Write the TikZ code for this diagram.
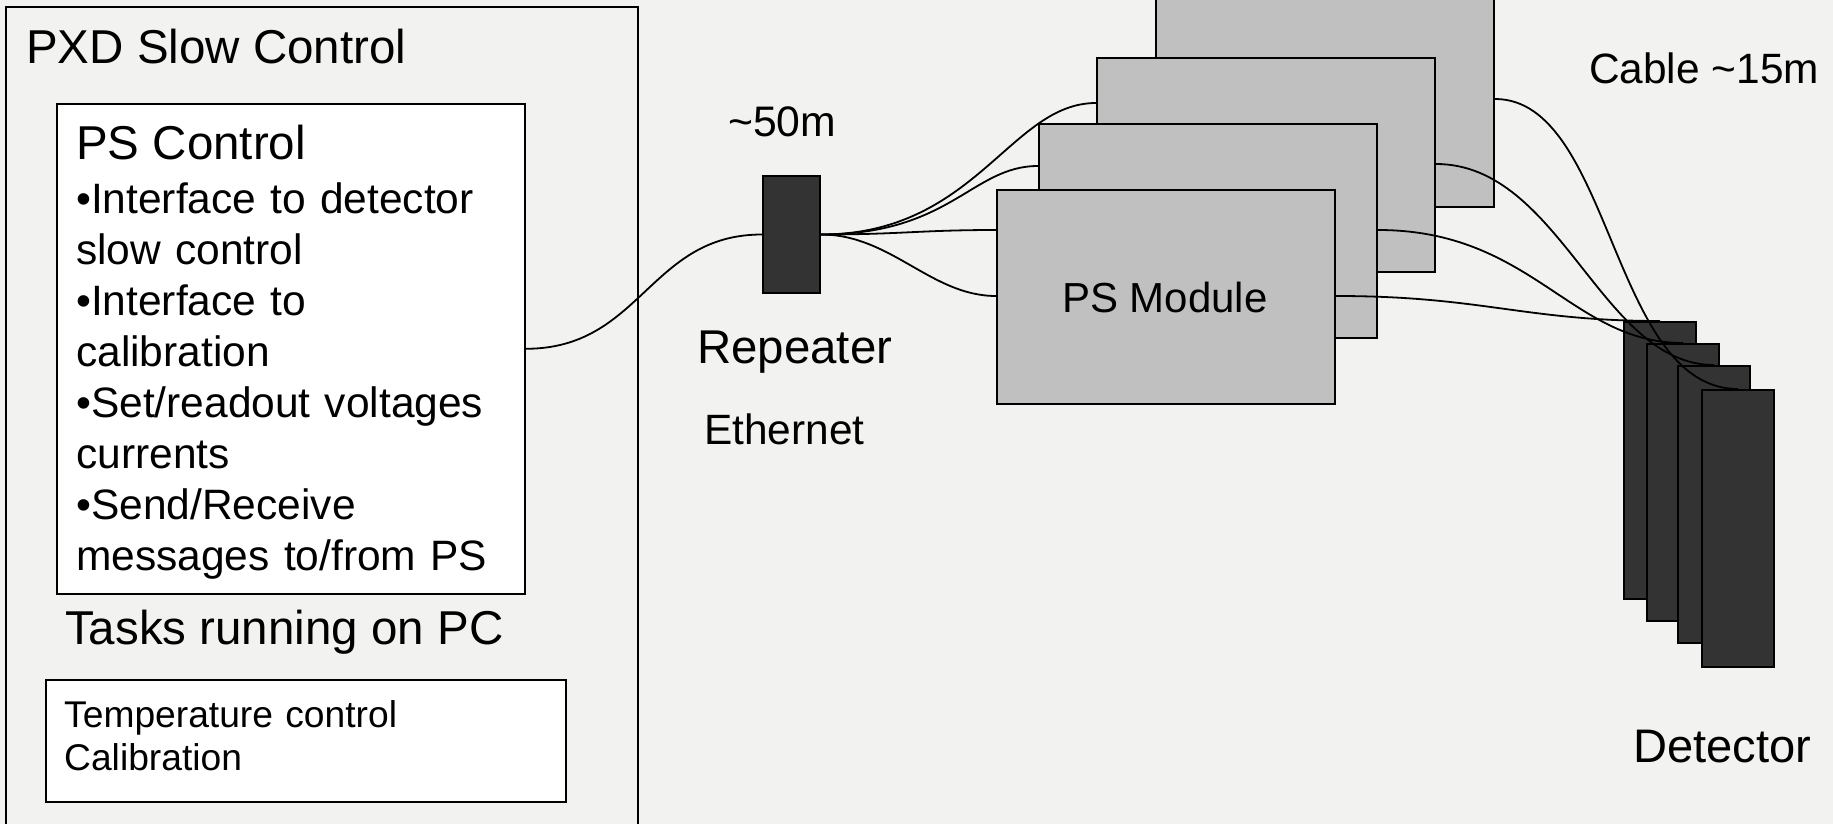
\documentclass[tikz,border=0pt]{standalone}
\usepackage{fontspec}
\setmainfont{Liberation Sans}
\definecolor{bgcol}{HTML}{F2F2F0}
\definecolor{modgray}{HTML}{C0C0C0}
\definecolor{darkbox}{HTML}{333333}
\newcommand{\fsz}[2]{\fontsize{#1}{#2}\selectfont}
\tikzset{
  boxw/.style={draw=black, fill=white, line width=1.6pt, inner sep=0pt, anchor=north west},
  framebox/.style={draw=black, fill=bgcol, line width=1.6pt, inner sep=0pt, anchor=north west},
  modbox/.style={draw=black, fill=modgray, line width=2pt, inner sep=0pt, anchor=north west, minimum width=338pt, minimum height=214pt},
  darkbx/.style={draw=black, fill=darkbox, line width=2pt, inner sep=0pt, anchor=north west},
  detbox/.style={darkbx, minimum width=72pt, minimum height=277pt},
  wire/.style={draw=black, line width=1.8pt},
  lbl/.style={inner sep=0pt, anchor=base west},
}
\begin{document}
\begin{tikzpicture}[x=1pt, y=-1pt]
\useasboundingbox[fill=bgcol] (0,0) rectangle (1833,824);
% left frame
\node[framebox, minimum width=632pt, minimum height=840pt] (frame) at (5,6) {};
\node[lbl, font=\fsz{47.5}{57}] (title) at (26,64) {PXD Slow Control};
\node[boxw, minimum width=468pt, minimum height=490pt] (ps) at (56,103) {};
\node[lbl, font=\fsz{47.5}{57}] (pstitle) at (76,160) {PS Control};
\node[lbl, font=\fsz{42.5}{51}, text width=440pt, align=left] (psbody) at (76,213) {%
\textbullet Interface to detector\\
slow control\\
\textbullet Interface to\\
calibration\\
\textbullet Set/readout voltages\\
currents\\
\textbullet Send/Receive\\
messages to/from PS};
\node[lbl, font=\fsz{47.5}{57}] (tasks) at (65,644) {Tasks running on PC};
\node[boxw, minimum width=520pt, minimum height=122pt] (low) at (45,679) {};
\node[lbl, font=\fsz{37.2}{43}, text width=480pt, align=left] (lowtxt) at (64,727) {Temperature control\\Calibration};
% repeater
\node[darkbx, minimum width=57pt, minimum height=117pt] (rep) at (762,175) {};
\node[lbl, font=\fsz{42.7}{50}] (len50) at (728,136) {\textasciitilde 50m};
\node[lbl, font=\fsz{47.4}{56}] (reptxt) at (697,363) {Repeater};
\node[lbl, font=\fsz{42.4}{50}] (eth) at (704,444) {Ethernet};
% PS modules, back to front
\node[modbox] (m4) at (1155,-8) {};
\node[modbox] (m3) at (1096,57) {};
\node[modbox] (m2) at (1038,123) {};
\node[modbox] (m1) at (996,189) {};
\node[lbl, font=\fsz{42}{50}] (modtxt) at (1062,312) {PS Module};
% detectors, back to front
\node[detbox] (d1) at (1623,321) {};
\node[detbox] (d2) at (1646,343) {};
\node[detbox] (d3) at (1677,365) {};
\node[detbox] (d4) at (1701,389) {};
\node[lbl, font=\fsz{42.4}{50}] (cable) at (1589,84) {Cable \textasciitilde 15m};
\node[lbl, font=\fsz{47.1}{56}] (dettxt) at (1633,762) {Detector};
% wires
\draw[wire] (ps.east) .. controls +(116,0) and +(-113,0) .. (rep.west);
\draw[wire] (rep.east) .. controls +(155,0) and +(-86,0) .. ([yshift=-46pt]m3.north west);
\draw[wire] (rep.east) .. controls +(130,0) and +(-66,0) .. ([yshift=-43pt]m2.north west);
\draw[wire] (rep.east) .. controls +(80,0) and +(-76,0) .. ([yshift=-41pt]m1.north west);
\draw[wire] (rep.east) .. controls +(70,0) and +(-65,0) .. ([yshift=-107pt]m1.north west);
\draw[wire] ([yshift=-107pt]m4.north east) .. controls +(117,0) and +(-127,0) .. (d4.north);
\draw[wire] ([yshift=-107pt]m3.north east) .. controls +(125,0) and +(-113,0) .. (d3.north);
\draw[wire] ([yshift=-107pt]m2.north east) .. controls +(154,0) and +(-112,0) .. (d2.north);
\draw[wire] ([yshift=-107pt]m1.north east) .. controls +(146,0) and +(-136,0) .. (d1.north);
\end{tikzpicture}
\end{document}
